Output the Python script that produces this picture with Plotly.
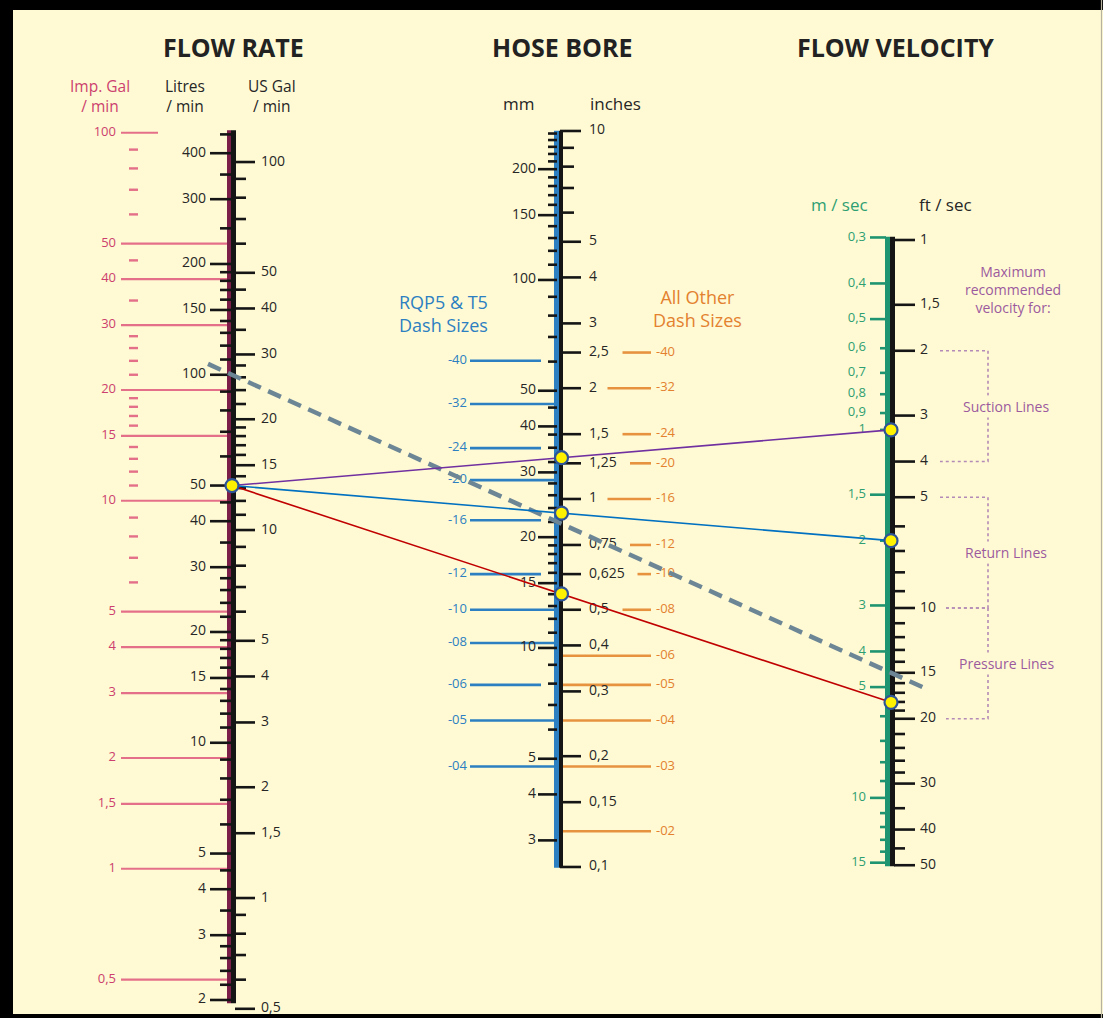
import math
import plotly.graph_objects as go

W, H = 1103, 1018

# ---------------- DATA ----------------
# Flow rate scales
imp_major = [100, 50, 40, 30, 20, 15, 10, 5, 4, 3, 2, 1.5, 1, 0.5]
imp_major_labels = ["100", "50", "40", "30", "20", "15", "10", "5", "4", "3", "2", "1,5", "1", "0,5"]
imp_minor = [90, 80, 70, 60, 45, 35, 28, 26, 24, 22, 19, 18, 17, 16, 14, 13, 12, 11, 9, 8, 7, 6]

litre_major = [400, 300, 200, 150, 100, 50, 40, 30, 20, 15, 10, 5, 4, 3, 2]
litre_major_labels = ["400", "300", "200", "150", "100", "50", "40", "30", "20", "15", "10", "5", "4", "3", "2"]
litre_minor = [450, 350, 250, 190, 180, 170, 160, 140, 130, 120, 110, 90, 80, 70, 60, 45, 35,
               28, 26, 24, 22, 19, 18, 17, 16, 14, 13, 12, 11, 9, 8, 7, 6, 4.5, 3.5, 2.8, 2.6, 2.4, 2.2]

usgal_major = [100, 50, 40, 30, 20, 15, 10, 5, 4, 3, 2, 1.5, 1, 0.5]
usgal_major_labels = ["100", "50", "40", "30", "20", "15", "10", "5", "4", "3", "2", "1,5", "1", "0,5"]
usgal_minor = [90, 80, 70, 60, 45, 35, 28, 26, 24, 22, 19, 18, 17, 16, 14, 13, 12, 11, 9, 8, 7, 6,
               0.9, 0.8, 0.7, 0.6]

# Hose bore scales
mm_major = [200, 150, 100, 50, 40, 30, 20, 15, 10, 5, 4, 3]
mm_major_labels = ["200", "150", "100", "50", "40", "30", "20", "15", "10", "5", "4", "3"]
mm_minor = [250, 240, 230, 220, 210, 190, 180, 170, 160, 140, 130, 120, 110, 90, 80, 70, 60, 45,
            38, 35, 32, 28, 26, 24, 22, 19, 18, 17, 16, 14, 13, 12, 11, 9, 8, 7, 6]

inch_major = [10, 5, 4, 3, 2.5, 2, 1.5, 1.25, 1, 0.75, 0.625, 0.5, 0.4, 0.3, 0.2, 0.15, 0.1]
inch_major_labels = ["10", "5", "4", "3", "2,5", "2", "1,5", "1,25", "1", "0,75", "0,625", "0,5",
                     "0,4", "0,3", "0,2", "0,15", "0,1"]
inch_minor = [9, 8, 7, 6]

rqp_sizes = ["-40", "-32", "-24", "-20", "-16", "-12", "-10", "-08", "-06", "-05", "-04"]
rqp_bore_in = [2.375, 1.8125, 1.375, 1.125, 0.875, 0.625, 0.5, 0.40625, 0.3125, 0.25, 0.1875]
other_sizes = ["-40", "-32", "-24", "-20", "-16", "-12", "-10", "-08", "-06", "-05", "-04", "-03", "-02"]
other_bore_in = [2.5, 2, 1.5, 1.25, 1, 0.75, 0.625, 0.5, 0.375, 0.3125, 0.25, 0.1875, 0.125]

# Flow velocity scales
ms_major = [0.3, 0.4, 0.5, 0.6, 0.7, 0.8, 0.9, 1, 1.5, 2, 3, 4, 5, 10, 15]
ms_major_labels = ["0,3", "0,4", "0,5", "0,6", "0,7", "0,8", "0,9", "1", "1,5", "2", "3", "4", "5", "10", "15"]
ms_long = [0.3, 0.4, 0.5, 1.5, 3, 4, 5, 10, 15]
ms_minor = [6, 7, 8, 9, 11, 12, 13, 14]

fts_major = [1, 1.5, 2, 3, 4, 5, 10, 15, 20, 30, 40, 50]
fts_major_labels = ["1", "1,5", "2", "3", "4", "5", "10", "15", "20", "30", "40", "50"]
fts_minor = [6, 7, 8, 9, 11, 12, 13, 14, 16, 17, 18, 19, 22, 24, 26, 28, 35, 45]

# Worked examples
example_flow_lpm = 50
example_velocity_ms = [1, 2, 5.5]
example_colors = ["#7030A0", "#0070C0", "#C00000"]
dashed_flow_lpm = 100
dashed_velocity_fts = 15

# Maximum recommended velocity ranges (ft/s)
range_names = ["Suction Lines", "Return Lines", "Pressure Lines"]
range_lo_fts = [2, 5, 10]
range_hi_fts = [4, 10, 20]

# ---------------- SCALES ----------------
# one log axis in "litres/min" units; every other scale is mapped onto it
L_PER_IMP = 4.54609
L_PER_US = 3.78541
MM_PER_IN = 25.4
FT_PER_M = 3.28084
BORE_K = 45.97   # placement constant for the bore scale
VEL_K = 232.4    # placement constant for the (reversed) velocity scale
Y_RANGE = [0.2521, 3.0184]


def q_l(v): return v
def q_imp(v): return v * L_PER_IMP
def q_us(v): return v * L_PER_US
def b_in(v): return v * BORE_K
def b_mm(v): return v / MM_PER_IN * BORE_K
def v_fts(v): return VEL_K / v
def v_ms(v): return VEL_K / (v * FT_PER_M)


# layout positions (pixels on the x axis)
FLOW_X, BORE_X, VEL_X = 232, 561.5, 891

FONT = "Open Sans"
INK = "#262626"
PINK_LINE = "#E46F88"
PINK_TEXT = "#CC3F6E"
MAROON = "#7B1E48"
BLUE = "#2C7FC1"
ORANGE_LINE = "#E6923F"
ORANGE_TEXT = "#E3812F"
GREEN = "#1F9470"
GREEN_TEXT = "#2E9F72"
PURPLE_TXT = "#9C5A9E"
BG = "#FFFAD4"
TICK_FS = 14

traces = []


def segs(vals, conv, x0, x1, color, width):
    xs, ys = [], []
    for v in vals:
        y = conv(v)
        xs += [x0, x1, None]
        ys += [y, y, None]
    traces.append(go.Scatter(x=xs, y=ys, mode="lines", line=dict(color=color, width=width),
                             hoverinfo="skip"))


def texts(vals, labels, conv, x, pos, color, size):
    traces.append(go.Scatter(x=[x] * len(vals), y=[conv(v) for v in vals], text=labels,
                             mode="text", textposition=pos,
                             textfont=dict(family=FONT, size=size, color=color),
                             hoverinfo="skip"))


def vbar(x, lo, hi, conv, color, width):
    traces.append(go.Scatter(x=[x, x], y=[conv(lo), conv(hi)], mode="lines",
                             line=dict(color=color, width=width), hoverinfo="skip"))


# ---- FLOW RATE ----
big_imp = [v for v in imp_major if v != 100]
segs(big_imp, q_imp, 121, 228, PINK_LINE, 2.2)
segs([100], q_imp, 121, 158, PINK_LINE, 2.2)
segs(imp_minor, q_imp, 129, 138, PINK_LINE, 2.4)
texts(imp_major, imp_major_labels, q_imp, 116, "middle left", PINK_TEXT, TICK_FS - 1)

vbar(229, 1.96, 462, q_l, MAROON, 4)
vbar(233.5, 1.96, 462, q_l, "#151515", 5)
segs(litre_major, q_l, 210, 231, "#151515", 2.6)
segs(litre_minor, q_l, 220, 231, "#151515", 2.6)
texts(litre_major, litre_major_labels, q_l, 206, "middle left", INK, TICK_FS)
segs(usgal_major, q_us, 235, 255, "#151515", 2.6)
segs(usgal_minor, q_us, 235, 246, "#151515", 2.6)
texts(usgal_major, usgal_major_labels, q_us, 261, "middle right", INK, TICK_FS)

# ---- HOSE BORE ----
mm_all = mm_major + mm_minor
rqp_end = []
for d in rqp_bore_in:
    near = any(abs(math.log10(b_mm(m)) - math.log10(b_in(d))) < 0.006 for m in mm_all)
    rqp_end.append(541 if near else 556)
for d, xe in zip(rqp_bore_in, rqp_end):
    segs([d], b_in, 470, xe, BLUE, 2.6)
texts(rqp_bore_in, rqp_sizes, b_in, 467, "middle left", BLUE, 13)

inch_lab = dict(zip(inch_major, inch_major_labels))
for d in other_bore_in:
    xs = 600 + 7.5 * len(inch_lab[d]) if d in inch_lab else 563
    segs([d], b_in, xs, 651, ORANGE_LINE, 2.6)
texts(other_bore_in, other_sizes, b_in, 656, "middle right", ORANGE_TEXT, 13)

vbar(556.5, 0.0995, 10.02, b_in, BLUE, 5)
vbar(561, 0.0995, 10.02, b_in, "#151515", 4)
segs(mm_major, b_mm, 538, 557, "#151515", 2.6)
segs(mm_minor, b_mm, 548, 557, "#151515", 2.6)
texts(mm_major, mm_major_labels, b_mm, 536, "middle left", INK, TICK_FS)
segs(inch_major, b_in, 560, 581, "#151515", 2.6)
segs(inch_minor, b_in, 560, 574, "#151515", 2.6)
texts(inch_major, inch_major_labels, b_in, 589, "middle right", INK, TICK_FS)

# ---- FLOW VELOCITY ----
vbar(887.5, 0.98, 50.3, v_fts, GREEN, 5)
vbar(892.5, 0.98, 50.3, v_fts, "#151515", 5)
segs(ms_long, v_ms, 870, 886, GREEN, 2.6)
segs([v for v in ms_major if v not in ms_long], v_ms, 880, 886, GREEN, 2.6)
segs(ms_minor, v_ms, 880, 886, GREEN, 2.6)
texts(ms_major, ms_major_labels, v_ms, 866, "middle left", GREEN_TEXT, TICK_FS - 1)
segs(fts_major, v_fts, 894, 915, "#151515", 2.6)
segs(fts_minor, v_fts, 894, 905, "#151515", 2.6)
texts(fts_major, fts_major_labels, v_fts, 920, "middle right", INK, TICK_FS)

# recommended-velocity brackets
BR_X = 988
for lo, hi in zip(range_lo_fts, range_hi_fts):
    xl0 = 940 if lo < 10 else 946
    xl1 = 940 if hi < 10 else 946
    traces.append(go.Scatter(x=[xl0, BR_X, BR_X, xl1], y=[v_fts(lo), v_fts(lo), v_fts(hi), v_fts(hi)],
                             mode="lines", line=dict(color="#B48AB6", width=1.6, dash="dot"),
                             hoverinfo="skip"))


def extrap(x, xa, ya, xb, yb):
    t = (x - xa) / (xb - xa)
    return 10 ** (math.log10(ya) + t * (math.log10(yb) - math.log10(ya)))


# dashed example line (extended past both outer scales)
qa, qb = q_l(dashed_flow_lpm), v_fts(dashed_velocity_fts)
traces.append(go.Scatter(x=[208, 925],
                         y=[extrap(208, FLOW_X, qa, VEL_X, qb), extrap(925, FLOW_X, qa, VEL_X, qb)],
                         mode="lines", line=dict(color="#6D8696", width=4.5, dash="14px,8px"),
                         hoverinfo="skip"))

# worked examples
q0 = q_l(example_flow_lpm)
mk_x, mk_y = [FLOW_X], [q0]
for v, c in zip(example_velocity_ms, example_colors):
    ve = v_ms(v)
    traces.append(go.Scatter(x=[FLOW_X, VEL_X], y=[q0, ve], mode="lines",
                             line=dict(color=c, width=1.6), hoverinfo="skip"))
    mk_x += [BORE_X, VEL_X]
    mk_y += [math.sqrt(q0 * ve), ve]
traces.append(go.Scatter(x=mk_x, y=mk_y, mode="markers",
                         marker=dict(size=13, color="#FFF200", line=dict(color="#2F5597", width=2.2)),
                         hoverinfo="skip"))

fig = go.Figure(traces)


def ann(text, x, ypix, size, color, bold=False, anchor="center", bg=None, yref="paper", y=None):
    fig.add_annotation(text=("<b>%s</b>" % text) if bold else text, x=x, xref="x",
                       y=(1 - ypix / H) if y is None else y, yref=yref,
                       showarrow=False, xanchor=anchor, yanchor="middle",
                       font=dict(family=FONT, size=size, color=color),
                       bgcolor=bg, borderpad=1)


ann("FLOW RATE", 233, 47, 25, "#222222", bold=True)
ann("HOSE BORE", 562, 47, 25, "#222222", bold=True)
ann("FLOW VELOCITY", 895, 47, 25, "#222222", bold=True)

ann("Imp. Gal<br>/ min", 100, 96, 15.5, PINK_TEXT)
ann("Litres<br>/ min", 185, 96, 15.5, INK)
ann("US Gal<br>/ min", 272, 96, 15.5, INK)
ann("mm", 518, 104, 17, INK)
ann("inches", 615, 104, 17, INK)
ann("m / sec", 839, 204, 17, GREEN_TEXT)
ann("ft / sec", 945, 204, 17, INK)

ann("RQP5 &amp; T5<br>Dash Sizes", 443, 313, 18, BLUE)
ann("All Other<br>Dash Sizes", 697, 309, 18, ORANGE_TEXT)

ann("Maximum<br>recommended<br>velocity for:", 1013, 289, 14, PURPLE_TXT)
for name, lo, hi in zip(range_names, range_lo_fts, range_hi_fts):
    ymid = math.log10(v_fts(math.sqrt(lo * hi)))
    ann(name, 1006, 0, 14, PURPLE_TXT, bg=BG, yref="y", y=ymid)

# frame
fig.add_shape(type="rect", xref="paper", yref="paper", x0=0, x1=13 / W, y0=0, y1=1,
              fillcolor="black", line_width=0, layer="above")
fig.add_shape(type="rect", xref="paper", yref="paper", x0=0, x1=1, y0=1 - 10 / H, y1=1,
              fillcolor="black", line_width=0, layer="above")
fig.add_shape(type="rect", xref="paper", yref="paper", x0=0, x1=1, y0=0, y1=4 / H,
              fillcolor="black", line_width=0, layer="above")
fig.add_shape(type="line", xref="paper", yref="paper", x0=1 - 1.5 / W, x1=1 - 1.5 / W, y0=0, y1=1,
              line=dict(color="#B5B3A0", width=1.2), layer="above")

fig.update_layout(
    width=W, height=H, margin=dict(l=0, r=0, t=0, b=0),
    paper_bgcolor=BG, plot_bgcolor=BG, showlegend=False,
    xaxis=dict(range=[0, W], visible=False, fixedrange=True),
    yaxis=dict(type="log", range=Y_RANGE, visible=False, fixedrange=True),
)

fig.write_html("out.html", config={"displayModeBar": False},
               post_script="document.body.style.margin='0';document.body.style.overflow='hidden';")
